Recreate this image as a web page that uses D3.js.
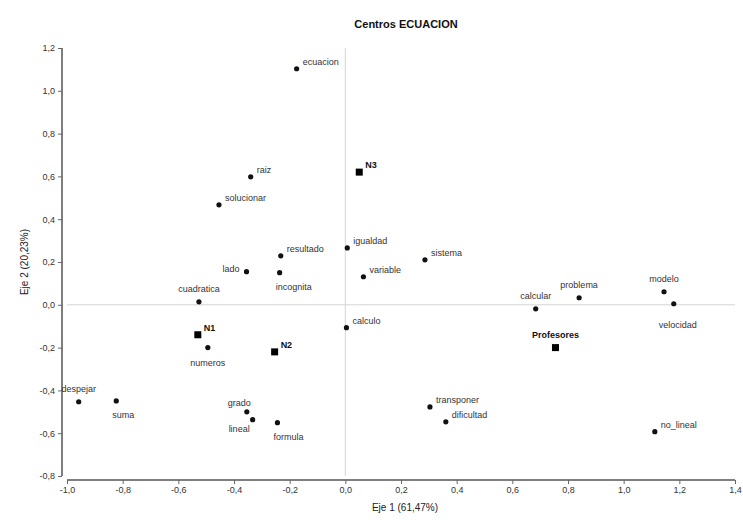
<!DOCTYPE html>
<html>
<head>
<meta charset="utf-8">
<script src="https://cdn.jsdelivr.net/npm/d3@7"></script>
<style>
  body { margin: 0; background: #fff; }
  svg { display: block; font-family: "Liberation Sans", Arial, sans-serif; }
  .tick-label { font-size: 9px; fill: #333; }
  .pt-label { font-size: 9px; fill: #333; }
  .pt-label.center { font-weight: bold; fill: #111; }
</style>
</head>
<body>
<svg id="chart" width="743" height="520"></svg>
<script>
// Centros ECUACION: axis 1 vs axis 2 coordinates
const names = [
  "ecuacion", "raiz", "solucionar", "N3", "resultado", "igualdad", "lado",
  "incognita", "variable", "sistema", "cuadratica", "calcular", "problema",
  "modelo", "velocidad", "Profesores", "calculo", "N1", "numeros", "N2",
  "despejar", "suma", "grado", "lineal", "formula", "transponer",
  "dificultad", "no_lineal"
];
const axis1 = [
  -0.175, -0.34, -0.454, 0.05, -0.232, 0.007, -0.355,
  -0.236, 0.065, 0.286, -0.526, 0.684, 0.84,
  1.145, 1.18, 0.755, 0.004, -0.53, -0.494, -0.254,
  -0.958, -0.823, -0.354, -0.333, -0.244, 0.304,
  0.361, 1.112
];
const axis2 = [
  1.103, 0.598, 0.467, 0.62, 0.229, 0.266, 0.155,
  0.15, 0.131, 0.21, 0.014, -0.019, 0.033,
  0.061, 0.005, -0.2, -0.107, -0.14, -0.2, -0.22,
  -0.453, -0.449, -0.5, -0.537, -0.551, -0.477,
  -0.547, -0.593
];
// "c" = group centre (square), "w" = word (dot)
const kinds = [
  "w", "w", "w", "c", "w", "w", "w",
  "w", "w", "w", "w", "w", "w",
  "w", "w", "c", "w", "c", "w", "c",
  "w", "w", "w", "w", "w", "w",
  "w", "w"
];
const labelSide = [
  "ne", "ne", "ne", "ne", "ne", "ne", "w",
  "se", "ne", "ne", "n", "n", "n",
  "n", "s2", "n", "ne", "ne", "s", "ne",
  "n", "se", "nw", "sw", "se", "ne",
  "ne", "ne"
];
const xTicks = [-1.0, -0.8, -0.6, -0.4, -0.2, 0.0, 0.2, 0.4, 0.6, 0.8, 1.0, 1.2, 1.4];
const yTicks = [-0.8, -0.6, -0.4, -0.2, 0.0, 0.2, 0.4, 0.6, 0.8, 1.0, 1.2];

const title = "Centros ECUACION";
const xTitle = "Eje 1 (61,47%)";
const yTitle = "Eje 2 (20,23%)";

const svg = d3.select("#chart");
const x = d3.scaleLinear().domain([-1.0, 1.4]).range([67, 735]);
const y = d3.scaleLinear().domain([-0.8, 1.2]).range([476, 48]);

const fmt = (v) => d3.format(".1f")(v).replace(".", ",").replace("−", "-");

// reference lines through the origin
svg.append("line")
  .attr("x1", x(0)).attr("x2", x(0))
  .attr("y1", y(1.2)).attr("y2", y(-0.8))
  .attr("stroke", "#d4d4d4").attr("stroke-width", 1);
svg.append("line")
  .attr("x1", x(-1.0)).attr("x2", x(1.4))
  .attr("y1", y(0)).attr("y2", y(0))
  .attr("stroke", "#d4d4d4").attr("stroke-width", 1);

// axes (offset, no shared corner)
const xAxis = d3.axisBottom(x).tickValues(xTicks).tickFormat(fmt).tickSize(4).tickPadding(3);
const gx = svg.append("g").attr("transform", "translate(0,480)").call(xAxis);
const yAxis = d3.axisLeft(y).tickValues(yTicks).tickFormat(fmt).tickSize(4).tickPadding(3);
const gy = svg.append("g").attr("transform", "translate(62,0)").call(yAxis);
[gx, gy].forEach((g) => {
  g.select(".domain").attr("stroke", "#555").attr("stroke-width", 1.5);
  g.selectAll(".tick line").attr("stroke", "#666");
  g.selectAll(".tick text").attr("class", "tick-label")
    .style("font-family", "Liberation Sans, Arial, sans-serif").attr("font-size", null);
});
gx.select(".domain").attr("d", `M${x(-1.0)},0H${x(1.4)}`);
gy.select(".domain").attr("d", `M0,${y(1.2)}V${y(-0.8)}`);

// titles
svg.append("text")
  .attr("x", 406).attr("y", 28)
  .attr("text-anchor", "middle")
  .attr("font-size", 11).attr("font-weight", "bold").attr("fill", "#111")
  .text(title);
svg.append("text")
  .attr("x", 405).attr("y", 511)
  .attr("text-anchor", "middle")
  .attr("font-size", 10).attr("fill", "#222")
  .text(xTitle);
svg.append("text")
  .attr("transform", "translate(28,262) rotate(-90)")
  .attr("text-anchor", "middle")
  .attr("font-size", 10).attr("fill", "#222")
  .text(yTitle);

const pts = names.map((n, i) => ({
  name: n, a1: axis1[i], a2: axis2[i], kind: kinds[i], side: labelSide[i]
}));

const g = svg.append("g");
g.selectAll("circle.word")
  .data(pts.filter((d) => d.kind === "w"))
  .join("circle")
  .attr("class", "word")
  .attr("cx", (d) => x(d.a1))
  .attr("cy", (d) => y(d.a2))
  .attr("r", 2.6)
  .attr("fill", "#111");

g.selectAll("rect.center")
  .data(pts.filter((d) => d.kind === "c"))
  .join("rect")
  .attr("class", "center")
  .attr("x", (d) => x(d.a1) - 3.5)
  .attr("y", (d) => y(d.a2) - 3.5)
  .attr("width", 7).attr("height", 7)
  .attr("fill", "#000");

// label offsets by side
const place = {
  ne: [6, -4, "start"],
  n: [0, -10, "middle"],
  s: [0, 18, "middle"],
  s2: [4, 24, "middle"],
  se: [-4, 17, "start"],
  nw: [4, -6, "end"],
  sw: [-3, 12, "end"],
  w: [-7, 0, "end"]
};

g.selectAll("text.pt-label")
  .data(pts)
  .join("text")
  .attr("class", (d) => "pt-label" + (d.kind === "c" ? " center" : ""))
  .attr("x", (d) => x(d.a1) + place[d.side][0])
  .attr("y", (d) => y(d.a2) + place[d.side][1])
  .attr("text-anchor", (d) => place[d.side][2])
  .text((d) => d.name);
</script>
</body>
</html>
